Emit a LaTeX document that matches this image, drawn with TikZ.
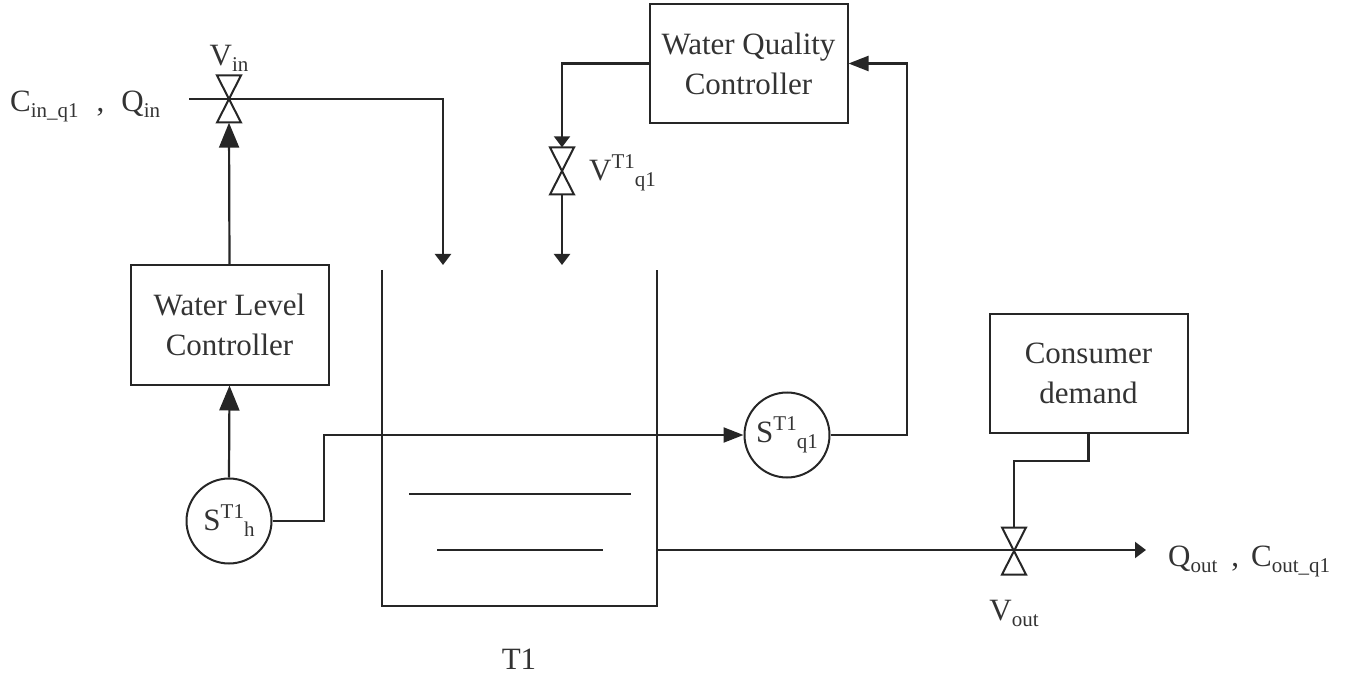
\documentclass[tikz,border=0pt]{standalone}
\usepackage{fontspec}
\setmainfont{Liberation Serif}
\usetikzlibrary{arrows.meta}
\newcommand{\lowtxt}[1]{\raisebox{-6pt}{\fontsize{21}{21}\selectfont #1}}
\newcommand{\hightxt}[1]{\raisebox{12pt}{\fontsize{21}{21}\selectfont #1}}
\tikzset{
  ctrlbox/.style={draw=black!85,line width=2pt,align=center,inner sep=0pt,minimum width=198pt,minimum height=119pt,text=black!80},
  sensor/.style={draw=black!85,line width=2pt,circle,inner sep=0pt,minimum size=85pt,text=black!80},
  valve/.style={inner sep=0pt,minimum width=24pt,minimum height=47pt},
  bowtie/.pic={\draw[line width=2pt,black!85,line join=miter] (-12,-23.5) -- (12,-23.5) -- (-12,23.5) -- (12,23.5) -- cycle;},
  txt/.style={inner sep=0pt,text=black!80},
  pipe/.style={line width=2.2pt,draw=black!85},
  bigtip/.style={pipe,-{Triangle[length=25pt,width=20pt]}},
  midtip/.style={pipe,-{Triangle[length=20pt,width=15pt]}},
  smalltip/.style={pipe,-{Triangle[length=11pt,width=16pt]}}
}
\begin{document}
\begin{tikzpicture}[x=1pt,y=-1pt,font=\fontsize{31}{40}\selectfont]
    \useasboundingbox (0,0) rectangle (1350,679);
    % controllers
    \node[ctrlbox] (quality) at (748.5,63.5) {Water Quality\\Controller};
    \node[ctrlbox] (level) at (229.5,325) {Water Level\\Controller};
    \node[ctrlbox] (demand) at (1088.5,373) {Consumer\\demand};
    % sensors
    \node[sensor] (sh) at (229,521) {S\hightxt{T1}\lowtxt{h}};
    \node[sensor] (sq) at (787,435) {S\hightxt{T1}\lowtxt{q1}};
    % valves
    \node[valve] (vin) at (229,99) {};
    \node[valve] (vq) at (562,171) {};
    \node[valve] (vout) at (1014,551) {};
    \pic at (vin) {bowtie};
    \pic at (vq) {bowtie};
    \pic at (vout) {bowtie};
    % tank
    \draw[pipe] (382,270) -- (382,606) -- (657,606) -- (657,270);
    \draw[pipe] (409,494) -- (631,494);
    \draw[pipe] (437,550) -- (603,550);
    % free ends
    \coordinate (inflow) at (189,99);
    \coordinate (fill) at (443,265);
    \coordinate (dose) at (562,265);
    \coordinate (drain) at (657,550);
    \coordinate (outflow) at (1146,550);
    \coordinate (bend) at (324,521);
    % connectors
    \draw[smalltip] (inflow) -- (vin.center) -| (fill);
    \draw[bigtip] (level.north) -- (vin.south);
    \draw[bigtip] (sh.north) -- (level.south);
    \draw[midtip] (sh.east) -- (bend) |- (sq.west);
    \draw[midtip] (sq.east) -- (907,435) |- (quality.east);
    \draw[smalltip] (quality.west) -| (vq.north);
    \draw[smalltip] (vq.south) -- (dose);
    \draw[pipe] (demand.south) |- (1014,461) -- (vout.north);
    \draw[smalltip] (drain) -- (outflow);
    % labels
    \node[txt,anchor=base] (vinlabel) at (229,66) {V\lowtxt{in}};
    \node[txt,anchor=base west] (inlabel) at (10,112) {C\lowtxt{in\_q1}\hspace{18pt},\hspace{17pt}Q\lowtxt{in}};
    \node[txt,anchor=base west] (vqlabel) at (589,181) {V\hightxt{T1}\lowtxt{q1}};
    \node[txt,anchor=base west] (outlabel) at (1168,566) {Q\lowtxt{out}\hspace{14pt},\hspace{12pt}C\lowtxt{out\_q1}};
    \node[txt,anchor=base] (voutlabel) at (1014,620) {V\lowtxt{out}};
    \node[txt,anchor=base] (tanklabel) at (519,669) {T1};
\end{tikzpicture}
\end{document}
